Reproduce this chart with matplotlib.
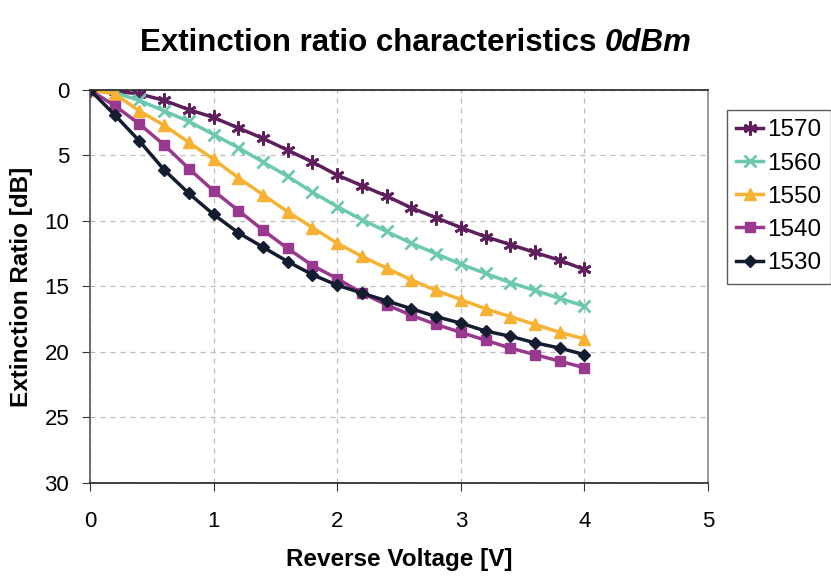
import matplotlib
matplotlib.use('Agg')
import matplotlib.pyplot as plt

plt.rcParams['font.family'] = ['Liberation Sans', 'DejaVu Sans']

voltage = [0.0, 0.2, 0.4, 0.6, 0.8, 1.0, 1.2, 1.4, 1.6, 1.8, 2.0,
           2.2, 2.4, 2.6, 2.8, 3.0, 3.2, 3.4, 3.6, 3.8, 4.0]

er_1570 = [0, 0.1, 0.3, 0.8, 1.5, 2.1, 2.9, 3.7, 4.6, 5.5, 6.5,
           7.3, 8.1, 9.0, 9.75, 10.5, 11.2, 11.8, 12.4, 13.0, 13.7]
er_1560 = [0, 0.2, 0.8, 1.6, 2.4, 3.4, 4.4, 5.5, 6.6, 7.8, 8.9,
           9.9, 10.8, 11.7, 12.5, 13.3, 14.0, 14.7, 15.3, 15.9, 16.5]
er_1550 = [0, 0.3, 1.6, 2.7, 4.0, 5.3, 6.7, 8.0, 9.3, 10.5, 11.7,
           12.7, 13.6, 14.5, 15.3, 16.0, 16.7, 17.3, 17.9, 18.5, 19.0]
er_1540 = [0, 1.2, 2.6, 4.2, 6.0, 7.7, 9.2, 10.7, 12.1, 13.4, 14.4,
           15.5, 16.4, 17.2, 17.9, 18.5, 19.1, 19.7, 20.2, 20.7, 21.2]
er_1530 = [0, 1.9, 3.9, 6.1, 7.9, 9.5, 10.9, 12.0, 13.1, 14.1, 14.9,
           15.5, 16.1, 16.7, 17.3, 17.8, 18.4, 18.8, 19.3, 19.7, 20.2]

labels = ['1570', '1560', '1550', '1540', '1530']
colors = ['#5f1f5c', '#6cc9b0', '#f7b233', '#98398f', '#141c30']
markers = [(6, 2, 0), 'x', '^', 's', 'D']
msizes = [10, 8, 8, 7, 6]
series = [er_1570, er_1560, er_1550, er_1540, er_1530]

fig = plt.figure(figsize=(8.31, 5.79), dpi=100, facecolor='white')
ax = fig.add_axes([0.1083, 0.1658, 0.7437, 0.6788])

for y, lab, c, m, ms in zip(series, labels, colors, markers, msizes):
    mew = 2 if lab in ('1570', '1560') else 1
    ax.plot(voltage, y, color=c, lw=2.5, marker=m, markersize=ms,
            markerfacecolor=c, markeredgecolor=c, markeredgewidth=mew, label=lab)

ax.set_xlim(0, 5)
ax.set_ylim(30, 0)
ax.set_xticks([0, 1, 2, 3, 4, 5])
ax.set_yticks([0, 5, 10, 15, 20, 25, 30])
ax.grid(True, color='#bbbbbb', linestyle=(0, (4, 4)), linewidth=0.9)
ax.tick_params(axis='both', labelsize=16, direction='out', length=6, color='#333333')
ax.tick_params(axis='x', pad=14)
ax.tick_params(axis='y', pad=9)

ax.spines['top'].set_color('#222222')
ax.spines['bottom'].set_color('#222222')
ax.spines['left'].set_color('#555555')
ax.spines['right'].set_color('#888888')
for s in ax.spines.values():
    s.set_linewidth(1.2)

ax.set_xlabel('Reverse Voltage [V]', fontsize=17.5, fontweight='bold', labelpad=12)
ax.set_ylabel('Extinction Ratio [dB]', fontsize=17.5, fontweight='bold', labelpad=8)

fig.text(0.728, 0.926, 'Extinction ratio characteristics ', fontsize=22.5,
         fontweight='bold', ha='right', va='center')
fig.text(0.728, 0.926, '0dBm', fontsize=22.5, fontweight='bold', style='italic',
         ha='left', va='center')

leg = ax.legend(loc='upper left', bbox_to_anchor=(1.03, 0.95), fontsize=17.5,
                frameon=True, fancybox=False, edgecolor='#333333',
                handlelength=1.1, handletextpad=0.15, labelspacing=0.46,
                borderpad=0.4, borderaxespad=0)
leg.get_frame().set_linewidth(1.0)

plt.savefig('out.png', dpi=100)
